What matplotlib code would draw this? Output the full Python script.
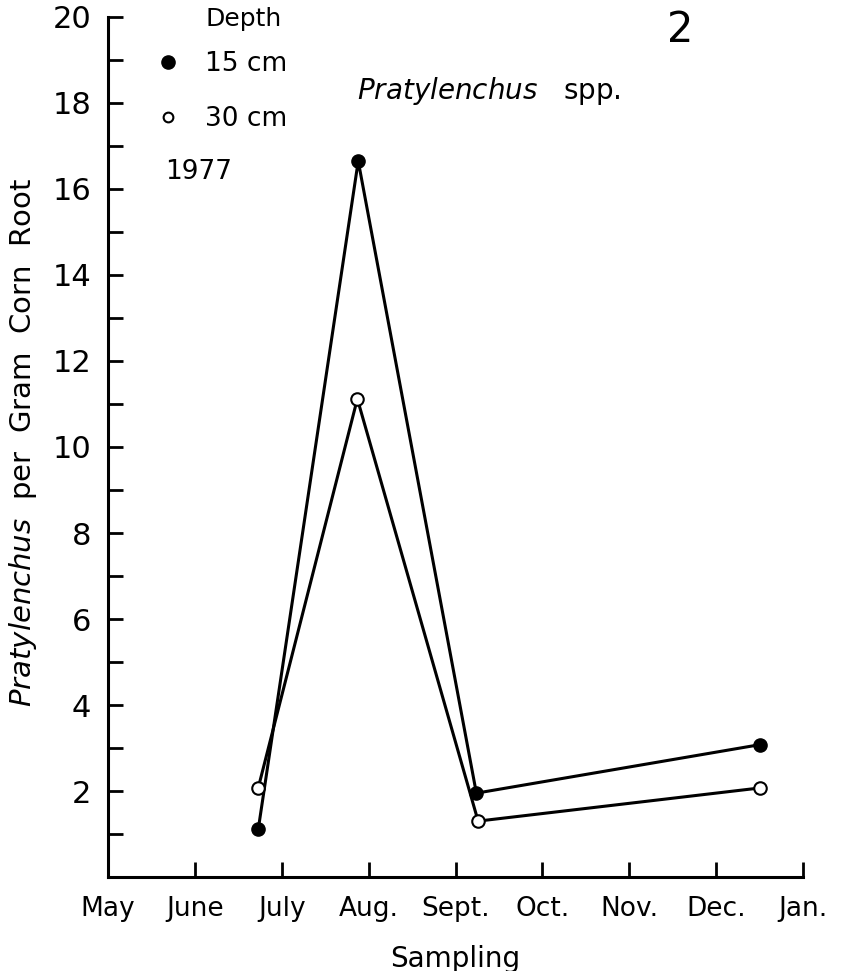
import numpy as np
import matplotlib.pyplot as plt
from matplotlib.lines import Line2D

plt.rcParams['font.family'] = 'DejaVu Sans'
plt.rcParams['mathtext.fontset'] = 'custom'
plt.rcParams['mathtext.rm'] = 'DejaVu Sans'
plt.rcParams['mathtext.it'] = 'DejaVu Sans:italic'

months = ["May", "June", "July", "Aug.", "Sept.", "Oct.", "Nov.", "Dec.", "Jan."]
# sampling dates, in months after 1 May
t15 = [1.73, 2.88, 4.24, 7.51]
t30 = [1.73, 2.87, 4.26, 7.50]
d15 = [1.12, 16.65, 1.95, 3.08]
d30 = [2.08, 11.12, 1.30, 2.07]

fig = plt.figure(figsize=(8.42, 9.71), dpi=100)
ax = fig.add_axes([0.1283, 0.0968, 0.8254, 0.8857])

ax.plot(t15, d15, color='black', lw=2.2, marker='o', ms=9.5, mfc='black', mec='black', zorder=3)
ax.plot(t30, d30, color='black', lw=2.2, marker='o', ms=9, mfc='white', mec='black', mew=1.5, zorder=4)

ax.set_xlim(0, 8)
ax.set_ylim(0, 20)
ax.set_xticks(np.arange(len(months)))
ax.set_xticklabels(months, fontsize=19)
ax.set_yticks(np.arange(2, 21, 2))
ax.set_yticks(np.arange(1, 21, 1), minor=True)
ax.set_yticklabels([str(v) for v in range(2, 21, 2)], fontsize=22)
ax.tick_params(axis='both', which='both', direction='in', length=11, width=2)
ax.tick_params(axis='x', pad=14)
ax.tick_params(axis='y', pad=12)
for s in ['top', 'right']:
    ax.spines[s].set_visible(False)
for s in ['left', 'bottom']:
    ax.spines[s].set_linewidth(2.2)

ax.set_xlabel("Sampling", fontsize=20, labelpad=16)
ax.set_ylabel(r"$Pratylenchus$  per  Gram  Corn  Root", fontsize=21)
ax.yaxis.set_label_coords(-0.1, 0.505)

handles = [Line2D([], [], ls='none', marker='o', ms=9.5, mfc='black', mec='black'),
           Line2D([], [], ls='none', marker='o', ms=7, mfc='white', mec='black', mew=1.5)]
leg = ax.legend(handles, ["15 cm", "30 cm"], loc='upper left',
                bbox_to_anchor=(155 / 842, 1 - 51 / 971), bbox_transform=fig.transFigure,
                frameon=False, fontsize=19, labelspacing=1.1, handlelength=1.0,
                handletextpad=0.9, borderpad=0, borderaxespad=0)
fig.text(205 / 842, 1 - 19 / 971, "Depth", fontsize=18, va='center')
fig.text(165 / 842, 1 - 172 / 971, "1977", fontsize=19, va='center')
fig.text(357 / 842, 1 - 91 / 971, r"$Pratylenchus$   spp.", fontsize=20, va='center')
fig.text(667 / 842, 1 - 30 / 971, "2", fontsize=30, va='center')

fig.savefig("out.png", dpi=100)
